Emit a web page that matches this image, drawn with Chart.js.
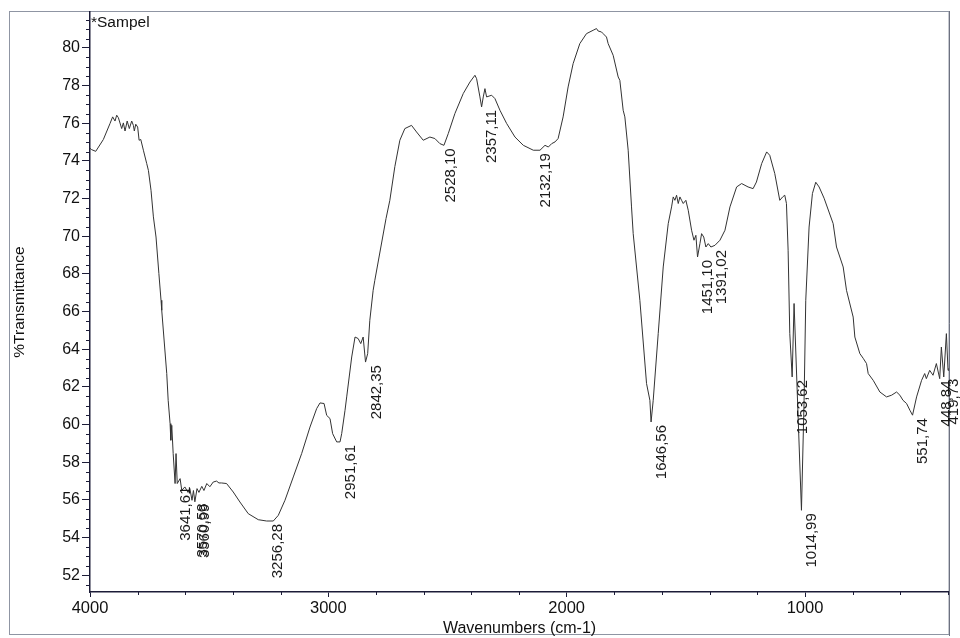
<!DOCTYPE html>
<html>
<head>
<meta charset="utf-8">
<style>
html,body{margin:0;padding:0;background:#ffffff;}
#wrap{position:relative;width:960px;height:638px;}
</style>
<script src="https://cdn.jsdelivr.net/npm/chart.js@4.4.1/dist/chart.umd.min.js"></script>
</head>
<body>
<div id="wrap"><canvas id="c" width="960" height="638"></canvas></div>
<script>
// ---- data ----
const wavenumbers = [
 4000,3993,3976,3944,3916,3905,3895,3888,3881,3867,3860,3853,3844,3835,3825,3818,3814,3808,3800,3794,
 3787,3776,3762,3755,3744,3734,3723,3711,3702,3699,3678,3672,3664,3661,3657,3651,3643,3639,3634,3622,
 3615,3602,3589,3581,3572,3566,3560,3551,3543,3531,3522,3510,3497,3483,3469,3459,3448,3427,3399,3371,
 3336,3294,3259,3231,3210,3182,3147,3112,3077,3049,3035,3018,3007,2993,2982,2965,2951,2944,2930,2923,
 2902,2888,2875,2864,2854,2844,2835,2826,2812,2805,2758,2742,2721,2700,2679,2651,2630,2602,2574,2553,
 2532,2515,2497,2469,2434,2406,2385,2378,2364,2357,2350,2343,2336,2315,2301,2280,2252,2217,2182,2140,
 2112,2091,2077,2063,2049,2036,2015,1994,1973,1945,1917,1889,1875,1868,1854,1847,1833,1826,1805,1784,
 1777,1763,1756,1742,1728,1721,1693,1665,1651,1646,1637,1616,1595,1574,1560,1553,1546,1539,1532,1525,
 1518,1511,1500,1490,1476,1466,1458,1451,1441,1434,1425,1416,1406,1395,1378,1357,1336,1315,1287,1266,
 1239,1218,1204,1182,1161,1148,1127,1106,1094,1085,1078,1071,1064,1054,1046,1015,1004,997,983,969,
 955,941,920,882,868,840,826,798,791,770,756,742,735,714,686,658,637,616,602,589,
 574,560,549,532,511,498,491,477,463,449,435,428,418,407,400,397
];
const transmittance = [
 74.67,74.60,74.51,75.14,75.99,76.34,76.12,76.43,76.30,75.72,76.02,75.59,76.12,75.72,76.12,75.89,75.59,75.95,75.80,75.10,
 75.14,74.57,73.86,73.50,72.44,71.03,69.96,68.02,66.60,66.07,62.71,61.29,60.05,59.17,59.96,58.46,56.87,58.46,56.87,57.13,
 56.51,56.69,56.40,56.60,55.98,56.50,55.90,56.60,56.40,56.72,56.50,56.87,56.70,56.95,57.00,56.90,56.90,56.87,56.42,55.89,
 55.27,54.95,54.88,54.88,55.18,55.98,57.22,58.46,59.87,60.85,61.15,61.12,60.49,60.32,59.52,59.08,59.08,59.52,60.76,61.47,
 63.59,64.65,64.57,64.30,64.65,63.32,63.77,65.54,67.13,67.66,70.94,71.91,73.70,75.10,75.72,75.89,75.54,75.10,75.27,75.19,
 74.92,74.83,75.45,76.52,77.58,78.19,78.55,78.37,77.40,76.87,77.40,77.84,77.40,77.49,77.31,76.69,75.99,75.27,74.83,74.57,
 74.57,74.83,74.74,74.92,75.01,75.19,76.34,77.93,79.17,80.23,80.76,80.94,81.03,80.90,80.85,80.76,80.58,80.23,79.61,78.46,
 78.28,76.69,76.34,74.57,71.56,70.14,66.60,62.18,61.29,60.14,61.29,64.83,68.37,70.67,71.56,72.09,71.91,72.18,71.74,72.09,
 71.91,71.74,71.91,71.38,70.32,69.79,70.05,68.90,69.61,70.14,69.96,69.43,69.61,69.43,69.52,69.79,70.32,71.56,72.62,72.80,
 72.62,72.53,72.88,73.86,74.48,74.30,73.33,71.91,72.09,72.18,71.74,69.26,64.83,62.53,66.43,55.45,61.29,66.60,70.49,72.27,
 72.87,72.62,72.02,70.67,69.43,68.37,67.13,65.71,64.65,63.77,63.52,63.24,62.71,62.35,61.73,61.47,61.56,61.73,61.56,61.29,
 61.12,60.76,60.50,61.47,62.35,62.71,62.44,62.88,62.62,63.24,62.44,64.12,62.53,64.83,62.88,62.99
];
const peakWavenumbers = [3641.61,3570.58,3560.99,3256.28,2951.61,2842.35,2528.10,2357.11,2132.19,1646.56,1451.10,1391.02,1053.62,1014.99,551.74,448.84,419.73];
const peakTransmittance = [56.87,55.98,55.95,54.88,59.08,63.32,74.83,76.87,74.57,60.14,68.90,69.43,62.53,55.45,60.50,62.50,62.60];
const peakLabels = ['3641,61','3570,58','3560,99','3256,28','2951,61','2842,35','2528,10','2357,11','2132,19','1646,56','1451,10','1391,02','1053,62','1014,99','551,74','448,84','419,73'];
const xTickValues = [1000,2000,3000,4000];
const yTickValues = [52,54,56,58,60,62,64,66,68,70,72,74,76,78,80];
const sampleName = '*Sampel';
const xTitle = 'Wavenumbers (cm-1)';
const yTitle = '%Transmittance';

const FONT = "'Liberation Sans', Arial, Helvetica, sans-serif";
const AXIS = '#1c1c38';
const TXT = '#111111';

const decorPlugin = {
  id: 'decor',
  beforeDraw(chart) {
    const ctx = chart.ctx;
    ctx.save();
    ctx.fillStyle = '#ffffff';
    ctx.fillRect(0, 0, chart.width, chart.height);
    ctx.strokeStyle = '#8f95a3';
    ctx.lineWidth = 1;
    ctx.strokeRect(9.5, 11.5, 939.5, 623);
    ctx.restore();
  },
  afterDraw(chart) {
    const ctx = chart.ctx;
    const xs = chart.scales.x, ys = chart.scales.y;
    const ca = chart.chartArea;
    ctx.save();
    // minor ticks
    ctx.strokeStyle = AXIS;
    ctx.lineWidth = 1;
    ctx.beginPath();
    for (let v = 51.5; v <= ys.max; v += 0.5) {
      if (Math.abs(v % 2) < 1e-6) continue;
      const y = Math.round(ys.getPixelForValue(v)) + 0.5;
      ctx.moveTo(ca.left - 4, y); ctx.lineTo(ca.left, y);
    }
    for (let v = 400; v <= 4000; v += 200) {
      if (v % 1000 === 0) continue;
      const x = Math.round(xs.getPixelForValue(v)) + 0.5;
      ctx.moveTo(x, ca.bottom); ctx.lineTo(x, ca.bottom + 3);
    }
    ctx.stroke();
    // right border line
    ctx.strokeStyle = '#6d7180';
    ctx.beginPath();
    ctx.moveTo(ca.right + 0.5, 11); ctx.lineTo(ca.right + 0.5, 636);
    ctx.stroke();
    // sample name
    ctx.fillStyle = TXT;
    ctx.font = '15.5px ' + FONT;
    ctx.textAlign = 'left';
    ctx.textBaseline = 'middle';
    ctx.fillText(sampleName, ca.left + 1, ca.top + 11);
    // peak labels
    ctx.font = '15px ' + FONT;
    ctx.fillStyle = '#1a1a1a';
    for (let i = 0; i < peakLabels.length; i++) {
      const x = xs.getPixelForValue(peakWavenumbers[i]) + 3;
      const y = ys.getPixelForValue(peakTransmittance[i]) + 3;
      ctx.save();
      ctx.translate(x, y);
      ctx.rotate(-Math.PI / 2);
      ctx.textAlign = 'right';
      ctx.textBaseline = 'top';
      ctx.fillText(peakLabels[i], 0, 0);
      ctx.restore();
    }
    ctx.restore();
  }
};

new Chart(document.getElementById('c'), {
  type: 'line',
  data: {
    datasets: [{
      label: sampleName,
      data: wavenumbers.map((w, i) => ({ x: w, y: transmittance[i] })),
      borderColor: '#333333',
      borderWidth: 1,
      pointRadius: 0,
      tension: 0,
      fill: false
    }]
  },
  options: {
    responsive: false,
    animation: false,
    devicePixelRatio: 1,
    layout: { padding: { left: 0, right: 11, top: 12, bottom: 0 } },
    plugins: { legend: { display: false }, tooltip: { enabled: false } },
    scales: {
      x: {
        type: 'linear',
        reverse: true,
        min: 396,
        max: 4000,
        afterBuildTicks: s => { s.ticks = xTickValues.map(v => ({ value: v })); },
        afterFit: s => { s.height = 46; },
        ticks: { font: { family: FONT, size: 16.5 }, color: TXT, padding: 2, maxRotation: 0, autoSkip: false, callback: v => String(v) },
        grid: { drawOnChartArea: false, drawTicks: true, tickLength: 5, color: AXIS },
        border: { display: true, color: AXIS, width: 1.5 },
        title: { display: true, text: xTitle, font: { family: FONT, size: 16 }, color: TXT, padding: 0 }
      },
      y: {
        type: 'linear',
        min: 51.11,
        max: 81.91,
        afterBuildTicks: s => { s.ticks = yTickValues.map(v => ({ value: v })); },
        afterFit: s => { s.width = 90; },
        ticks: { font: { family: FONT, size: 16 }, color: TXT, padding: 2, autoSkip: false, callback: v => String(v) },
        grid: { drawOnChartArea: false, drawTicks: true, tickLength: 8, color: AXIS },
        border: { display: true, color: AXIS, width: 1.5 },
        title: { display: true, text: yTitle, font: { family: FONT, size: 15.5 }, color: TXT, padding: { top: 10, bottom: 0 } }
      }
    }
  },
  plugins: [decorPlugin]
});
</script>
</body>
</html>
